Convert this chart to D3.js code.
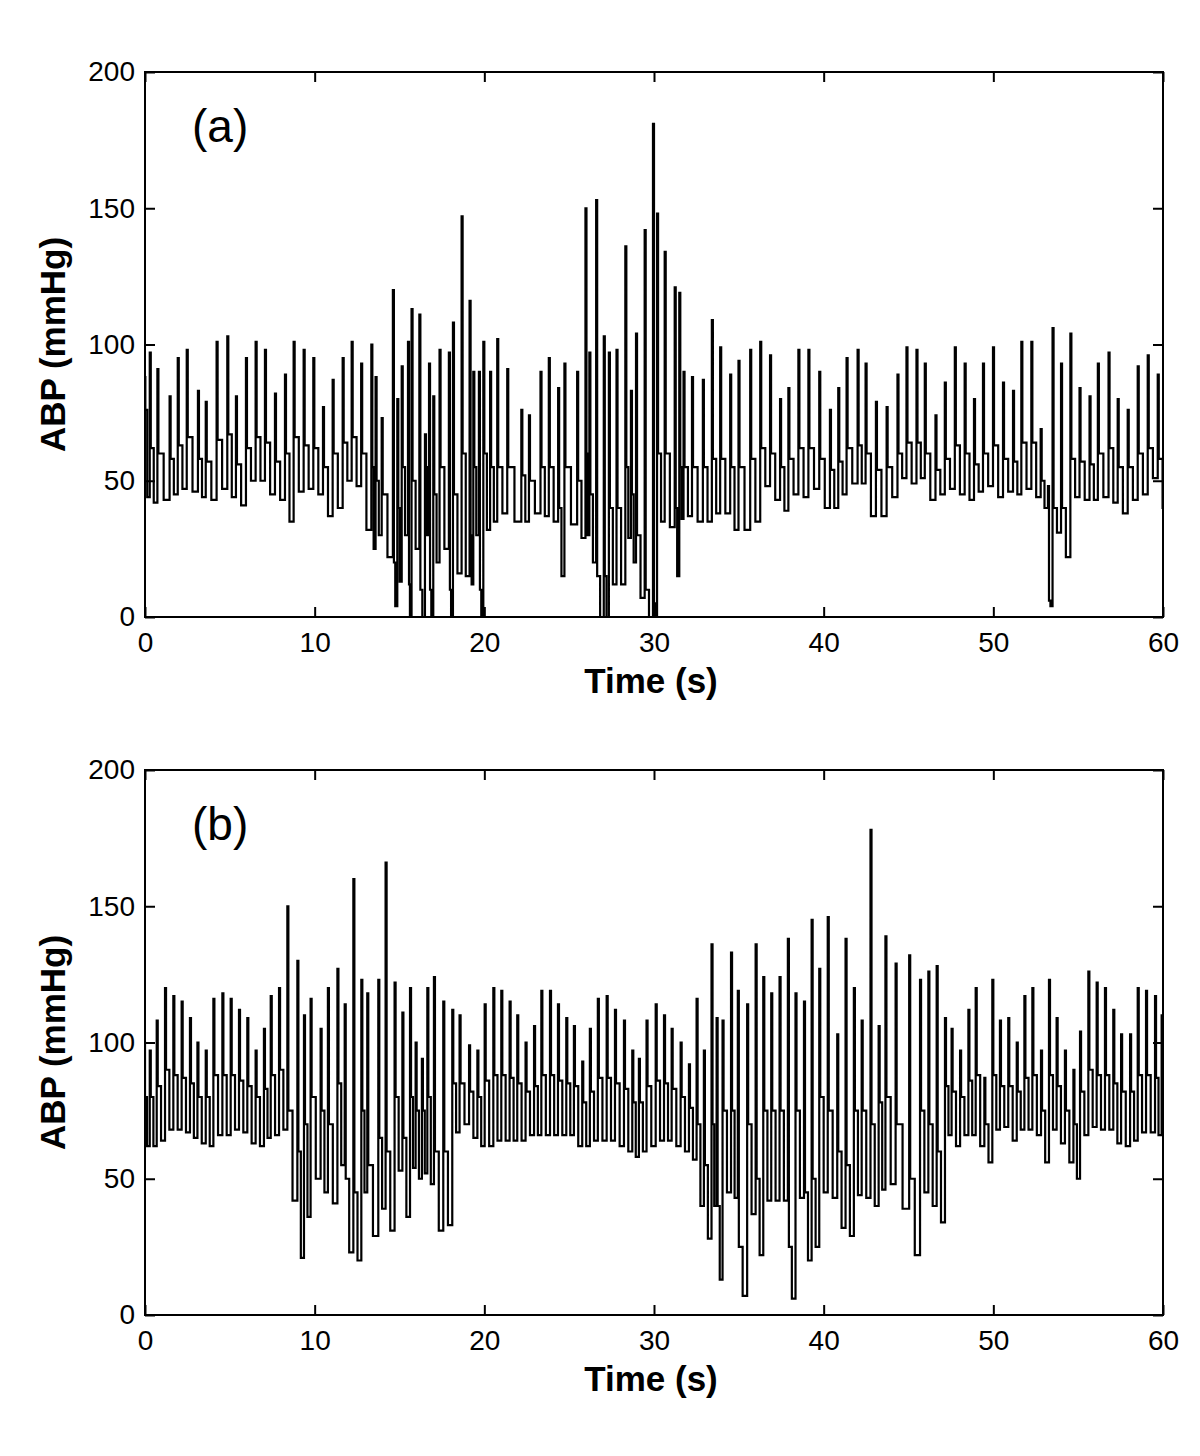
<!DOCTYPE html>
<html>
<head>
<meta charset="utf-8">
<script src="https://cdn.jsdelivr.net/npm/d3@7"></script>
<style>
   body { margin: 0; background: #fff; }
   svg text { font-family: "Liberation Sans", Arial, sans-serif; fill: #000; }
</style>
</head>
<body>
<svg id="chart" width="1200" height="1456"></svg>
<script>

// AXIS TICKS + TEXTS
var xTicks = [0, 10, 20, 30, 40, 50, 60];
var yTicks = [0, 50, 100, 150, 200];
var panelLabels = ['(a)', '(b)'];
var xTitle = 'Time (s)';
var yTitle = 'ABP (mmHg)';

// PANEL (a) - BEAT ONSET TIMES (s), SYSTOLIC PEAK, POST-PEAK LEVEL, TROUGH BEFORE NEXT BEAT (mmHg)
var beatTimesA = [-0.08, 0.24, 0.69, 1.41, 1.89, 2.42, 3.08, 3.54, 4.18, 4.81,
   5.32, 5.91, 6.48, 7.03, 7.62, 8.21, 8.72, 9.31, 9.88, 10.45,
   11.02, 11.61, 12.14, 12.70, 13.30, 13.55, 13.91, 14.57, 14.83, 15.09,
   15.46, 15.67, 16.13, 16.46, 16.70, 16.95, 17.32, 17.87, 18.11, 18.62,
   19.09, 19.31, 19.64, 19.90, 20.30, 20.72, 21.31, 22.14, 22.59, 23.27,
   23.76, 24.31, 24.68, 25.43, 25.92, 26.15, 26.55, 27.00, 27.30, 27.75,
   28.27, 28.60, 28.90, 29.41, 29.90, 30.14, 30.59, 31.18, 31.45, 31.70,
   32.20, 32.84, 33.37, 33.86, 34.45, 34.94, 35.63, 36.22, 36.80, 37.39,
   37.88, 38.47, 39.06, 39.70, 40.33, 40.82, 41.31, 41.96, 42.43, 43.04,
   43.67, 44.31, 44.84, 45.43, 45.92, 46.55, 47.10, 47.69, 48.27, 48.82,
   49.35, 49.94, 50.53, 51.12, 51.61, 52.20, 52.75, 53.18, 53.45, 53.95,
   54.50, 55.04, 55.63, 56.12, 56.75, 57.29, 57.88, 58.47, 59.06, 59.65, 60.20];
var peaksA = [88, 97, 91, 81, 95, 98, 83, 79, 101, 103,
   81, 95, 101, 98, 82, 89, 101, 98, 95, 77,
   87, 95, 101, 93, 100, 88, 73, 120, 80, 92,
   101, 113, 111, 67, 93, 81, 98, 97, 108, 147,
   116, 90, 90, 101, 90, 102, 91, 76, 74, 90,
   95, 84, 93, 90, 150, 97, 153, 103, 97, 98,
   136, 83, 104, 142, 181, 148, 134, 121, 119, 90,
   88, 87, 109, 99, 89, 94, 98, 101, 96, 80,
   84, 98, 98, 90, 76, 84, 95, 98, 93, 79,
   77, 89, 99, 98, 93, 74, 86, 99, 93, 80,
   93, 99, 86, 83, 101, 101, 69, 48, 106, 93,
   104, 84, 81, 93, 97, 80, 76, 92, 96, 89, 90];
var notchesA = [76, 62, 60, 58, 63, 66, 58, 57, 65, 67,
   56, 62, 66, 64, 57, 60, 66, 63, 62, 55,
   60, 64, 66, 60, 55, 50, 45, 20, 40, 55,
   12, 50, 10, 55, 10, 45, 55, 10, 45, 60,
   30, 55, 10, 60, 55, 55, 55, 52, 50, 55,
   55, 40, 55, 50, 60, 45, 15, 15, 40, 40,
   55, 45, 30, 10, 5, 60, 60, 40, 55, 55,
   55, 55, 58, 58, 55, 55, 58, 62, 60, 55,
   58, 62, 62, 58, 54, 57, 62, 63, 60, 54,
   55, 60, 64, 64, 60, 54, 58, 63, 60, 56,
   60, 63, 58, 57, 64, 64, 50, 6, 40, 40,
   58, 57, 56, 60, 62, 55, 55, 60, 62, 58, 60];
var troughsA = [44, 42, 43, 45, 47, 46, 44, 43, 47, 44,
   41, 50, 50, 45, 43, 35, 46, 47, 45, 37,
   40, 50, 48, 32, 25, 30, 22, 4, 13, 30,
   0, 25, 0, 30, 0, 20, 25, 0, 16, 15,
   12, 30, 0, 32, 35, 38, 35, 35, 38, 37,
   35, 15, 34, 29, 30, 20, 0, 0, 12, 12,
   29, 20, 7, 0, 0, 35, 33, 15, 36, 37,
   35, 35, 38, 38, 32, 32, 35, 48, 43, 39,
   45, 44, 47, 40, 40, 45, 49, 49, 37, 37,
   44, 51, 49, 51, 43, 45, 47, 45, 43, 46,
   48, 44, 46, 45, 47, 44, 40, 4, 31, 22,
   44, 43, 43, 44, 42, 38, 43, 45, 51, 40, 45];

// PANEL (b) - SAME LAYOUT
var beatTimesB = [-0.10, 0.24, 0.65, 1.14, 1.63, 2.12, 2.61, 3.05, 3.54, 3.99,
   4.52, 5.01, 5.50, 5.99, 6.48, 6.97, 7.37, 7.86, 8.35, 8.94,
   9.33, 9.72, 10.31, 10.74, 11.30, 11.73, 12.24, 12.71, 13.06, 13.71,
   14.14, 14.67, 15.13, 15.58, 15.91, 16.28, 16.60, 16.99, 17.54, 18.07,
   18.50, 19.06, 19.55, 19.98, 20.49, 20.96, 21.45, 21.90, 22.39, 22.89,
   23.32, 23.83, 24.30, 24.79, 25.24, 25.73, 26.18, 26.65, 27.17, 27.66,
   28.19, 28.68, 29.07, 29.52, 30.06, 30.55, 31.00, 31.53, 32.02, 32.47,
   32.90, 33.35, 33.65, 34.00, 34.50, 34.90, 35.45, 35.95, 36.40, 36.87,
   37.36, 37.85, 38.30, 38.80, 39.25, 39.70, 40.20, 40.76, 41.25, 41.74,
   42.20, 42.72, 43.20, 43.60, 44.20, 45.00, 45.64, 46.13, 46.62, 47.11,
   47.50, 48.00, 48.49, 48.92, 49.43, 49.90, 50.35, 50.84, 51.34, 51.79,
   52.26, 52.77, 53.24, 53.69, 54.18, 54.68, 55.07, 55.56, 56.05, 56.54,
   57.03, 57.49, 58.02, 58.47, 58.96, 59.49, 59.88, 60.30];
var peaksB = [100, 97, 108, 120, 117, 115, 109, 100, 97, 116,
   118, 116, 112, 109, 97, 105, 117, 120, 150, 130,
   110, 116, 105, 120, 127, 114, 160, 123, 118, 123,
   166, 122, 111, 120, 100, 94, 120, 124, 115, 112,
   110, 99, 97, 114, 120, 119, 115, 110, 100, 106,
   119, 119, 114, 109, 106, 93, 105, 116, 117, 112,
   108, 97, 94, 108, 114, 110, 105, 100, 92, 116,
   97, 136, 109, 108, 133, 119, 114, 136, 124, 118,
   124, 138, 118, 115, 145, 127, 146, 103, 138, 120,
   108, 178, 106, 139, 129, 132, 123, 126, 128, 109,
   105, 97, 112, 120, 87, 123, 108, 109, 100, 117,
   120, 97, 123, 109, 97, 90, 104, 126, 122, 120,
   112, 103, 103, 120, 119, 117, 110, 105];
var notchesB = [80, 80, 84, 90, 88, 87, 85, 80, 80, 88,
   88, 88, 86, 84, 80, 83, 88, 90, 75, 60,
   70, 80, 75, 70, 85, 50, 45, 75, 55, 65,
   60, 80, 65, 80, 75, 75, 80, 60, 60, 85,
   85, 82, 80, 86, 88, 88, 87, 85, 82, 84,
   88, 88, 86, 85, 84, 78, 82, 87, 87, 85,
   83, 78, 78, 84, 86, 85, 83, 80, 76, 70,
   55, 70, 40, 75, 75, 25, 70, 50, 75, 75,
   75, 25, 75, 45, 50, 80, 75, 60, 55, 75,
   75, 70, 78, 80, 70, 50, 75, 70, 60, 84,
   82, 80, 86, 88, 70, 88, 84, 84, 82, 87,
   88, 75, 88, 84, 75, 70, 82, 90, 88, 88,
   85, 82, 82, 88, 88, 87, 85, 83];
var troughsB = [62, 62, 64, 68, 68, 67, 65, 63, 62, 66,
   66, 68, 67, 63, 62, 65, 66, 68, 42, 21,
   36, 50, 45, 41, 55, 23, 20, 45, 29, 39,
   31, 53, 36, 54, 50, 52, 48, 31, 33, 67,
   70, 65, 62, 62, 64, 64, 64, 64, 66, 66,
   66, 66, 66, 66, 62, 62, 64, 64, 64, 62,
   60, 58, 60, 62, 64, 64, 62, 60, 57, 40,
   28, 40, 13, 45, 43, 7, 37, 22, 42, 42,
   42, 6, 43, 20, 25, 45, 43, 32, 29, 44,
   43, 40, 46, 48, 39, 22, 45, 40, 34, 66,
   62, 66, 66, 62, 56, 68, 69, 64, 68, 68,
   66, 56, 68, 63, 56, 50, 66, 69, 68, 68,
   63, 62, 64, 67, 67, 66, 66, 66];

// PLOT AREA GEOMETRY
var plot = { left: 145, right: 1163, height: 545 };
var panelTops = [72, 770];

// TURN BEAT VALUES INTO A STAIRCASE WAVEFORM:
// HOLD TROUGH, JUMP TO PEAK, DROP TO POST-PEAK LEVEL, THEN DROP TO TROUGH HALFWAY TO THE NEXT BEAT
function waveform(times, peaks, notches, troughs) {
   var points = [];
   times.forEach((t, i) => {
      var next = i < times.length - 1 ? times[i + 1] : t + 0.5;
      points.push([t, i === 0 ? troughs[0] : troughs[i - 1]]);
      points.push([t + 0.04, peaks[i]]);
      points.push([t + 0.10, notches[i]]);
      points.push([(t + 0.10 + next) / 2, troughs[i]]);
   });
   points.push([times[times.length - 1] + 0.6, troughs[troughs.length - 1]]);
   return points;
}

// RENDER ONE PANEL
function render(svg, index, series) {

   var top = panelTops[index];
   var bottom = top + plot.height;

   // SCALES
   var xScale = d3.scaleLinear().domain([0, 60]).range([plot.left, plot.right]);
   var yScale = d3.scaleLinear().domain([0, 200]).range([bottom, top]);

   var g = svg.append('g');

   // CLIP TO THE FRAME
   g.append('clipPath')
      .attr('id', 'clip' + index)
      .append('rect')
         .attr('x', plot.left)
         .attr('y', top)
         .attr('width', plot.right - plot.left)
         .attr('height', plot.height);

   // TRACE
   var pathify = d3.line()
      .curve(d3.curveStepAfter)
      .x(d => xScale(d[0]))
      .y(d => yScale(Math.max(0, d[1])));

   g.append('path')
      .attr('clip-path', 'url(#clip' + index + ')')
      .attr('fill', 'none')
      .attr('stroke', '#000')
      .attr('stroke-width', 2.2)
      .attr('d', pathify(waveform(series.times, series.peaks, series.notches, series.troughs)));

   // AXES (TICKS POINT INWARDS, ON ALL FOUR SIDES)
   var tickStyle = (sel) => {
      sel.select('.domain').remove();
      sel.selectAll('line').attr('stroke', '#000').attr('stroke-width', 2);
      sel.selectAll('text').attr('font-size', 28).attr('fill', '#000');
   };

   g.append('g')
      .attr('transform', 'translate(0,' + bottom + ')')
      .call(d3.axisBottom(xScale).tickValues(xTicks).tickSize(-10).tickPadding(15))
      .call(tickStyle);

   g.append('g')
      .attr('transform', 'translate(0,' + top + ')')
      .call(d3.axisTop(xScale).tickValues(xTicks).tickSize(-10).tickFormat(''))
      .call(tickStyle);

   g.append('g')
      .attr('transform', 'translate(' + plot.left + ',0)')
      .call(d3.axisLeft(yScale).tickValues(yTicks).tickSize(-10).tickPadding(10))
      .call(tickStyle);

   g.append('g')
      .attr('transform', 'translate(' + plot.right + ',0)')
      .call(d3.axisRight(yScale).tickValues(yTicks).tickSize(-10).tickFormat(''))
      .call(tickStyle);

   // FRAME
   g.append('rect')
      .attr('x', plot.left)
      .attr('y', top)
      .attr('width', plot.right - plot.left)
      .attr('height', plot.height)
      .attr('fill', 'none')
      .attr('stroke', '#000')
      .attr('stroke-width', 2);

   // PANEL LETTER
   g.append('text')
      .attr('x', 192)
      .attr('y', top + 70)
      .attr('font-size', 46)
      .text(panelLabels[index]);

   // AXIS TITLES
   g.append('text')
      .attr('x', (plot.left + plot.right) / 2 - 3)
      .attr('y', bottom + 76)
      .attr('text-anchor', 'middle')
      .attr('font-size', 35)
      .attr('font-weight', 'bold')
      .text(xTitle);

   g.append('text')
      .attr('transform', 'translate(65,' + (top + plot.height / 2) + ') rotate(-90)')
      .attr('text-anchor', 'middle')
      .attr('font-size', 35)
      .attr('font-weight', 'bold')
      .text(yTitle);
}

var svg = d3.select('#chart');

render(svg, 0, { times: beatTimesA, peaks: peaksA, notches: notchesA, troughs: troughsA });
render(svg, 1, { times: beatTimesB, peaks: peaksB, notches: notchesB, troughs: troughsB });

</script>
</body>
</html>
